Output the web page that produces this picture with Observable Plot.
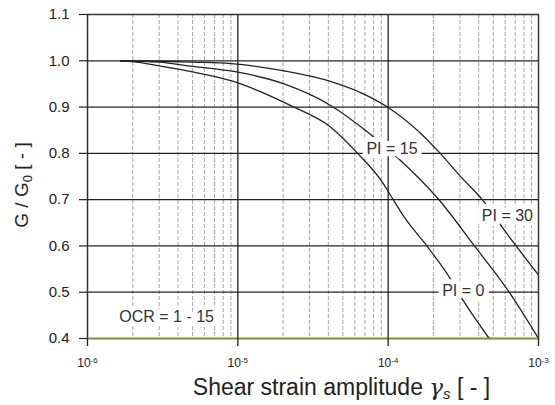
<!DOCTYPE html>
<html><head><meta charset="utf-8">
<script src="https://cdn.jsdelivr.net/npm/d3@7"></script>
<script src="https://cdn.jsdelivr.net/npm/@observablehq/plot@0.6"></script>
<style>body{margin:0;background:#fff} svg{display:block}</style>
</head><body><div id="chart"></div>
<script>
// ---- data ----
const strainPI0 = [1.66e-6, 2e-6, 3e-6, 5e-6, 9e-6, 2.25e-5, 4.17e-5, 6.31e-5, 9e-5, 1.09e-4, 1.28e-4, 1.8e-4, 2.5e-4, 3.2e-4, 4.7e-4];
const ratioPI0  = [1.0, 0.998, 0.989, 0.976, 0.957, 0.903, 0.856, 0.799, 0.741, 0.698, 0.662, 0.601, 0.537, 0.479, 0.40];

const strainPI15 = [1.66e-6, 3e-6, 5e-6, 9e-6, 2.03e-5, 4.17e-5, 7.36e-5, 1.18e-4, 2.15e-4, 3.73e-4, 6.38e-4, 1e-3];
const ratioPI15  = [1.0, 0.997, 0.988, 0.978, 0.95, 0.903, 0.845, 0.788, 0.702, 0.601, 0.50, 0.40];

const strainPI30 = [1.66e-6, 3e-6, 5e-6, 9e-6, 2.03e-5, 4.17e-5, 6.9e-5, 1e-4, 1.66e-4, 2.19e-4, 3.07e-4, 4.28e-4, 5.93e-4, 1e-3];
const ratioPI30  = [1.0, 0.999, 0.997, 0.994, 0.978, 0.955, 0.928, 0.899, 0.842, 0.802, 0.748, 0.698, 0.634, 0.537];

const labelText   = ["PI = 0", "PI = 15", "PI = 30", "OCR = 1 - 15"];
const labelStrain = [3.16e-4, 1.06e-4, 6.21e-4, 3.36e-6];
const labelRatio  = [0.503, 0.81, 0.664, 0.446];

const xMajorTicks = [1e-6, 1e-5, 1e-4, 1e-3];
const xTickBase = ["10", "10", "10", "10"];
const xTickExp  = ["-6", "-5", "-4", "-3"];
const xMinorTicks = [2e-6, 3e-6, 4e-6, 5e-6, 6e-6, 7e-6, 8e-6, 9e-6,
                     2e-5, 3e-5, 4e-5, 5e-5, 6e-5, 7e-5, 8e-5, 9e-5,
                     2e-4, 3e-4, 4e-4, 5e-4, 6e-4, 7e-4, 8e-4, 9e-4];
const yTicks = [0.4, 0.5, 0.6, 0.7, 0.8, 0.9, 1.0, 1.1];
const yTickLabels = ["0.4", "0.5", "0.6", "0.7", "0.8", "0.9", "1.0", "1.1"];

// ---- build tables ----
const toRows = (xs, ys, name) => xs.map((x, i) => ({strain: x, ratio: ys[i], curve: name}));
const curves = [
  ...toRows(strainPI0, ratioPI0, "PI0"),
  ...toRows(strainPI15, ratioPI15, "PI15"),
  ...toRows(strainPI30, ratioPI30, "PI30")
];
const labels = labelText.map((t, i) => ({text: t, strain: labelStrain[i], ratio: labelRatio[i]}));
const findIdx = (arr, d) => arr.findIndex(v => Math.abs(v - d) <= Math.abs(d) * 1e-6 + 1e-12);

const W = 555, H = 405, mL = 87, mR = 17, mT = 14, mB = 67;
const ink = "#222";

const plot = Plot.plot({
  width: W, height: H,
  marginLeft: mL, marginRight: mR, marginTop: mT, marginBottom: mB,
  style: {fontFamily: "'Liberation Sans', Arial, Helvetica, sans-serif", background: "#fff", color: ink},
  x: {type: "log", domain: [1e-6, 1e-3]},
  y: {domain: [0.4, 1.1]},
  marks: [
    Plot.ruleX(xMinorTicks, {stroke: "#a8a8a8", strokeWidth: 1, strokeDasharray: "4,2"}),
    Plot.ruleY(yTicks.slice(1, -1), {stroke: ink, strokeWidth: 1.2}),
    Plot.ruleX(xMajorTicks.slice(1, -1), {stroke: ink, strokeWidth: 1.3}),
    Plot.line(curves, {x: "strain", y: "ratio", z: "curve", stroke: ink, strokeWidth: 1.3, curve: "monotone-x"}),
    Plot.text(labels, {x: "strain", y: "ratio", text: "text", fontSize: 16, fill: "#333",
      stroke: "white", strokeWidth: 10, strokeLinejoin: "round"}),
    Plot.frame({stroke: "#333", strokeWidth: 1.5}),
    Plot.ruleY([0.4], {stroke: "#8f8f3c", strokeWidth: 1.5}),
    Plot.axisX(xMajorTicks, {tickSize: 8, tickPadding: 12, fontSize: 12, strokeWidth: 1.3,
      tickFormat: d => { const i = findIdx(xMajorTicks, d); return i < 0 ? "" : xTickBase[i] + "^" + xTickExp[i]; },
      label: null}),
    Plot.axisY(yTicks, {tickSize: 8, tickPadding: 10, fontSize: 15, strokeWidth: 1.2,
      tickFormat: d => { const i = findIdx(yTicks, d); return i < 0 ? "" : yTickLabels[i]; },
      label: null})
  ]
});

document.getElementById("chart").appendChild(plot);

// superscripts for x tick labels
const ns = "http://www.w3.org/2000/svg";
plot.querySelectorAll('g[aria-label="x-axis tick label"] text').forEach(t => {
  const parts = t.textContent.split("^");
  if (parts.length < 2) return;
  t.textContent = parts[0];
  const ts = document.createElementNS(ns, "tspan");
  ts.setAttribute("dy", "-0.45em");
  ts.setAttribute("font-size", "8");
  ts.textContent = parts[1];
  t.appendChild(ts);
});

// axis titles
const svg = d3.select(plot);
const xt = svg.append("text")
  .attr("x", mL + (W - mL - mR) / 2 + 29)
  .attr("y", H - 10)
  .attr("text-anchor", "middle")
  .attr("font-size", 23)
  .attr("fill", ink);
xt.append("tspan").text("Shear strain amplitude ");
xt.append("tspan").attr("font-style", "italic").attr("font-family", "'DejaVu Serif', serif").text("γ");
xt.append("tspan").attr("font-style", "italic").attr("font-size", 15).attr("dy", 4).text("s");
xt.append("tspan").attr("dy", -4).text(" [ - ]");

const yt = svg.append("text")
  .attr("transform", `translate(28,${mT + (H - mT - mB) / 2 + 9}) rotate(-90)`)
  .attr("text-anchor", "middle")
  .attr("font-size", 19)
  .attr("fill", ink);
yt.append("tspan").text("G / G");
yt.append("tspan").attr("font-size", 13).attr("dy", 4).text("0");
yt.append("tspan").attr("dy", -4).text(" [ - ]");
</script></body></html>
